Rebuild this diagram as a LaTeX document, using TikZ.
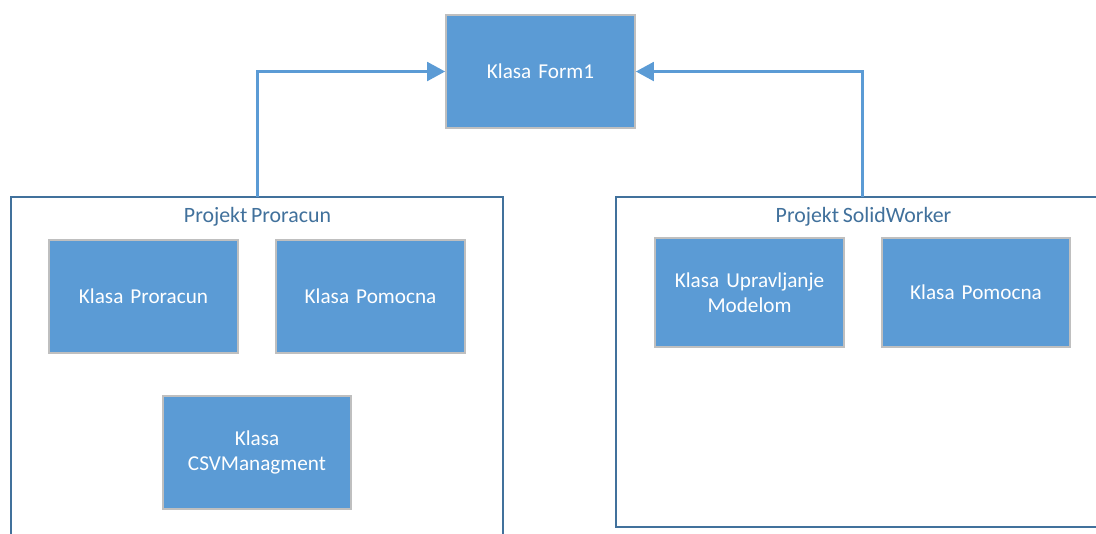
\documentclass[tikz,border=0pt]{standalone}
\usepackage{fontspec}
\setmainfont[WordSpace=0.75]{Carlito}
\usetikzlibrary{arrows.meta}
\definecolor{boxfill}{HTML}{5B9BD5}
\definecolor{boxline}{HTML}{BFBFBF}
\definecolor{grp}{HTML}{41719C}
\definecolor{grptext}{HTML}{41719C}
\tikzset{x=0.75pt,y=-0.75pt,
 cls/.style={draw=boxline,line width=1.6pt,fill=boxfill,text=white,align=center,font=\fontsize{15.9}{19}\selectfont,inner sep=0pt,text width=141.4pt,minimum width=141.4pt,minimum height=85pt},
 short/.style={minimum height=82pt},
 grpbox/.style={draw=grp,line width=2pt,fill=white},
 grplabel/.style={text=grptext,font=\fontsize{16.4}{19}\selectfont,inner sep=0pt},
 link/.style={draw=boxfill,line width=2.25pt,-{Triangle[length=13.5pt,width=14pt]}}}
\begin{document}
\begin{tikzpicture}
\useasboundingbox (0,0) rectangle (1096,533);
\path[grpbox] (11,540) -- (11,197) -- (503,197) -- (503,540);
\path[grpbox] (1100,527) -- (616,527) -- (616,197) -- (1100,197);
\coordinate (pt) at (257,197);
\coordinate (st) at (862,197);
\node[grplabel] (lp) at (257.5,217) {Projekt Proracun};
\node[grplabel] (ls) at (863.5,217) {Projekt SolidWorker};
\node[cls] (form) at (540.5,71.5) {Klasa Form1};
\node[cls] (a) at (143.5,296.5) {Klasa Proracun};
\node[cls] (b) at (370.5,296.5) {Klasa Pomocna};
\node[cls] (c) at (257,452.5) {Klasa\\CSVManagment};
\node[cls,short] (d) at (749.5,292.5) {Klasa Upravljanje\\Modelom};
\node[cls,short] (e) at (976,292.5) {Klasa Pomocna};
\draw[link] (pt) |- (form.west);
\draw[link] (st) |- (form.east);
\end{tikzpicture}
\end{document}
